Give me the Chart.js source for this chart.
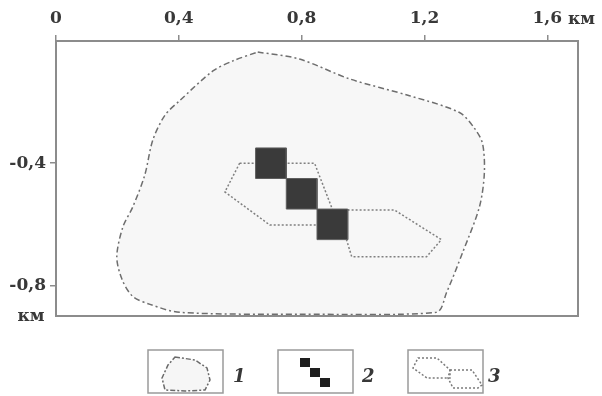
<!DOCTYPE html>
<html>
<head>
<meta charset="utf-8">
<script src="https://cdn.jsdelivr.net/npm/chart.js@4/dist/chart.umd.min.js"></script>
<style>
  html, body { margin: 0; padding: 0; background: #fff; }
</style>
</head>
<body>
<div style="width:602px;height:396px"><canvas id="chart"></canvas></div>
<script>
// axis ticks
const xTicks = [0, 0.4, 0.8, 1.2, 1.6];
const xTickLabels = ['0', '0,4', '0,8', '1,2', '1,6'];
const yTicks = [-0.4, -0.8];
const yTickLabels = ['-0,4', '-0,8'];
const unitLabel = 'км';
const legendLabels = ['1', '2', '3'];

// 1 - outer contour (km)
const areaX = [0.657, 0.793, 0.956, 1.151, 1.314, 1.363, 1.389, 1.395, 1.379, 1.324, 1.272, 1.239,
  0.793, 0.403, 0.306, 0.250, 0.215, 0.198, 0.218, 0.250, 0.289, 0.315, 0.354, 0.403, 0.511, 0.576];
const areaY = [-0.036, -0.059, -0.124, -0.179, -0.234, -0.286, -0.335, -0.433, -0.543, -0.693, -0.823, -0.888,
  -0.894, -0.888, -0.862, -0.836, -0.780, -0.706, -0.608, -0.543, -0.439, -0.325, -0.244, -0.195, -0.098, -0.065];

// 3 - dotted zone (km)
const zoneX = [0.598, 0.842, 0.901, 1.102, 1.255, 1.207, 0.963, 0.946, 0.852, 0.696, 0.550];
const zoneY = [-0.400, -0.400, -0.553, -0.553, -0.650, -0.706, -0.706, -0.650, -0.602, -0.602, -0.494];

// 2 - cells (centres, km)
const cellX = [0.7, 0.8, 0.9];
const cellY = [-0.4, -0.5, -0.6];
const cellSize = 0.1;

const closed = (xs, ys) => {
  const pts = xs.map((x, i) => ({ x: x, y: ys[i] }));
  pts.push({ x: xs[0], y: ys[0] });
  return pts;
};

// lower index is drawn on top, so cells go first
const cellSets = cellX.map((cx, i) => {
  const h = cellSize / 2;
  const cy = cellY[i];
  return {
    data: closed([cx - h, cx + h, cx + h, cx - h], [cy + h, cy + h, cy - h, cy - h]),
    showLine: true,
    fill: 'shape',
    backgroundColor: '#3a3a3a',
    borderColor: '#5e5e5e',
    borderWidth: 1,
    pointRadius: 0,
    tension: 0,
  };
});

const serif = 'DejaVu Serif';
const textColor = '#383838';
const frameColor = '#8c8c8c';

const framePlugin = {
  id: 'frame',
  afterDatasetsDraw(chart) {
    const { ctx, chartArea: a } = chart;
    ctx.save();
    ctx.strokeStyle = frameColor;
    ctx.lineWidth = 2;
    ctx.strokeRect(a.left, a.top, a.right - a.left, a.bottom - a.top);
    ctx.restore();
  },
  afterDraw(chart) {
    const ctx = chart.ctx;
    ctx.save();
    ctx.fillStyle = textColor;
    ctx.font = 'bold 17px "' + serif + '"';
    ctx.textBaseline = 'alphabetic';
    ctx.textAlign = 'left';
    ctx.fillText(unitLabel, 568, 24);
    ctx.textAlign = 'center';
    ctx.fillText(unitLabel, 31, 321);

    // legend boxes
    const boxes = [148, 278, 408];
    ctx.strokeStyle = '#9a9a9a';
    ctx.lineWidth = 1.5;
    boxes.forEach(bx => ctx.strokeRect(bx, 350, 75, 43));

    // 1: dash-dot blob
    const blob = [[175, 357], [195, 360], [207, 368], [210, 380], [205, 390], [185, 391], [165, 390], [162, 378], [168, 365]];
    ctx.beginPath();
    blob.forEach((p, i) => i ? ctx.lineTo(p[0], p[1]) : ctx.moveTo(p[0], p[1]));
    ctx.closePath();
    ctx.fillStyle = '#f6f6f6';
    ctx.fill();
    ctx.setLineDash([5, 2, 2, 2]);
    ctx.strokeStyle = '#6a6a6a';
    ctx.stroke();
    ctx.setLineDash([]);

    // 2: small cells
    ctx.fillStyle = '#1e1e1e';
    [[300, 358], [310, 368], [320, 378]].forEach(p => ctx.fillRect(p[0], p[1], 10, 9));

    // 3: dotted hexagons
    const hexA = [[418, 358], [437, 358], [450, 370], [450, 378], [427, 378], [413, 368]];
    const hexB = [[450, 370], [472, 370], [482, 385], [478, 388], [453, 388], [448, 378]];
    ctx.setLineDash([2, 2]);
    ctx.strokeStyle = '#7a7a7a';
    [hexA, hexB].forEach(h => {
      ctx.beginPath();
      h.forEach((p, i) => i ? ctx.lineTo(p[0], p[1]) : ctx.moveTo(p[0], p[1]));
      ctx.closePath();
      ctx.stroke();
    });
    ctx.setLineDash([]);

    // legend numbers
    ctx.fillStyle = textColor;
    ctx.font = 'italic bold 18px "' + serif + '"';
    ctx.textAlign = 'left';
    ctx.textBaseline = 'middle';
    [233, 362, 488].forEach((lx, i) => ctx.fillText(legendLabels[i], lx, 377));
    ctx.restore();
  }
};

new Chart(document.getElementById('chart'), {
  type: 'scatter',
  data: {
    datasets: [
      ...cellSets,
      {
        data: closed(zoneX, zoneY),
        showLine: true,
        fill: false,
        borderColor: '#808080',
        borderWidth: 1.5,
        borderDash: [2, 2],
        pointRadius: 0,
        tension: 0,
      },
      {
        data: closed(areaX, areaY),
        showLine: true,
        fill: 'shape',
        backgroundColor: '#f7f7f7',
        borderColor: '#6e6e6e',
        borderWidth: 1.5,
        borderDash: [6, 3, 2, 3],
        pointRadius: 0,
        tension: 0.3,
      },
    ],
  },
  options: {
    responsive: true,
    maintainAspectRatio: false,
    animation: false,
    layout: { padding: { left: 0, top: 0, right: 24, bottom: 80 } },
    plugins: {
      legend: { display: false },
      tooltip: { enabled: false },
    },
    scales: {
      x: {
        type: 'linear',
        position: 'top',
        min: 0,
        max: 1.7,
        afterBuildTicks: (scale) => { scale.ticks = xTicks.map(v => ({ value: v })); },
        afterFit: (scale) => { scale.height = 41; },
        grid: { drawOnChartArea: false, drawTicks: true, tickLength: 6, color: frameColor, lineWidth: 1.5 },
        border: { color: frameColor, width: 2 },
        ticks: {
          color: textColor,
          padding: 6,
          maxRotation: 0,
          font: { family: serif, weight: 'bold', size: 17 },
          callback: (v, i) => xTickLabels[i],
        },
      },
      y: {
        type: 'linear',
        min: -0.9,
        max: 0,
        afterBuildTicks: (scale) => { scale.ticks = yTicks.map(v => ({ value: v })); },
        afterFit: (scale) => { scale.width = 56; },
        grid: { drawOnChartArea: false, drawTicks: true, tickLength: 6, color: frameColor, lineWidth: 1.5 },
        border: { color: frameColor, width: 2 },
        ticks: {
          color: textColor,
          padding: 4,
          font: { family: serif, weight: 'bold', size: 17 },
          callback: (v, i) => yTickLabels[i],
        },
      },
    },
  },
  plugins: [framePlugin],
});
</script>
</body>
</html>
